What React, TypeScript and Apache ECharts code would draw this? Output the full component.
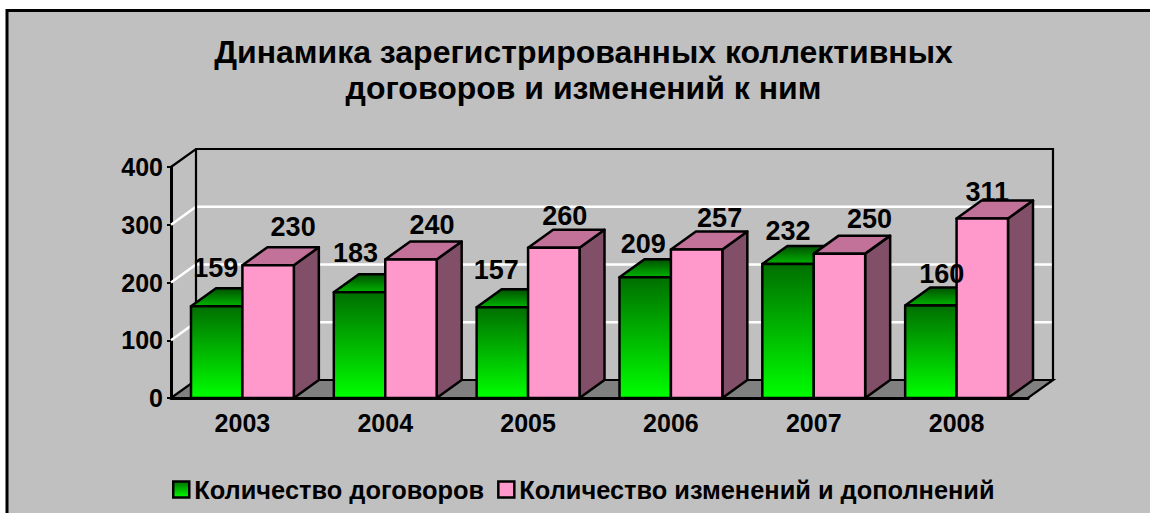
import React, { useEffect, useRef } from "react";
import * as echarts from "echarts";

const years = ["2003", "2004", "2005", "2006", "2007", "2008"];
const contracts = [159, 183, 157, 209, 232, 160];
const amendments = [230, 240, 260, 257, 250, 311];
const yTicks = [0, 100, 200, 300, 400];
const titleText = "Динамика зарегистрированных коллективных\nдоговоров и изменений к ним";
const contractsName = "Количество договоров";
const amendmentsName = "Количество изменений и дополнений";

// hand placement of the value labels, relative to each bar's front top centre
const contractLabelDx = [-1, -4, -6, -2, 0, 11];
const contractLabelDy = [-38, -39, -37, -33, -33, -32];
const amendmentLabelDx = [25, 21, 11, 23, 30, 5];
const amendmentLabelDy = [-38, -34, -32, -32, -35, -26];

const DX = 25;
const DY = 18;
const FONT = '"Liberation Sans", Arial, sans-serif';

const barRender = (side: number, top: any, front: any, right: string, values: number[]) => (params: any, api: any) => {
  const i = api.value(0);
  const v = values[i];
  const base = api.coord([i, 0]);
  const tip = api.coord([i, v]);
  const w = api.size([1, 0])[0] * 0.36;
  const x0 = side < 0 ? base[0] - w : base[0];
  const x1 = x0 + w;
  const y0 = base[1];
  const y1 = tip[1];
  const line = { stroke: "#000", lineWidth: 2.5, lineJoin: "round" };
  return {
    type: "group",
    children: [
      { type: "polygon", shape: { points: [[x1, y0], [x1 + DX, y0 - DY], [x1 + DX, y1 - DY], [x1, y1]] }, style: { fill: right, ...line } },
      { type: "polygon", shape: { points: [[x0, y1], [x1, y1], [x1 + DX, y1 - DY], [x0 + DX, y1 - DY]] }, style: { fill: top, ...line } },
      { type: "rect", shape: { x: x0, y: y1, width: w, height: y0 - y1 }, style: { fill: front, ...line } },
    ],
  };
};

const labelRender = (side: number, values: number[], dxs: number[], dys: number[]) => (params: any, api: any) => {
  const i = api.value(0);
  const v = values[i];
  const base = api.coord([i, v]);
  const w = api.size([1, 0])[0] * 0.36;
  return {
    type: "text",
    style: {
      x: base[0] + (side * w) / 2 + dxs[i],
      y: base[1] + dys[i],
      text: String(v),
      fill: "#000",
      font: `bold 27px ${FONT}`,
      align: "center",
      verticalAlign: "middle",
    },
  };
};

const frameRender = (params: any, api: any) => {
  const c = params.coordSys;
  const x0 = c.x;
  const x1 = c.x + c.width;
  const yb = api.coord([0, 0])[1];
  const yt = api.coord([0, yTicks[yTicks.length - 1]])[1];
  const stroke = { stroke: "#000", lineWidth: 2.2 };
  const children: any[] = [
    { type: "polygon", shape: { points: [[x0, yb], [x0 + DX, yb - DY], [x1 + DX, yb - DY], [x1, yb]] }, style: { fill: "#808080", ...stroke } },
  ];
  yTicks.slice(1, -1).forEach((t) => {
    const y = api.coord([0, t])[1];
    children.push({ type: "polyline", shape: { points: [[x0, y], [x0 + DX, y - DY], [x1 + DX, y - DY]] }, style: { fill: "none", stroke: "#fff", lineWidth: 2.5 } });
  });
  children.push(
    { type: "polyline", shape: { points: [[x0, yt], [x0 + DX, yt - DY], [x1 + DX, yt - DY], [x1 + DX, yb - DY]] }, style: { fill: "none", ...stroke } },
    { type: "line", shape: { x1: x0 + DX, y1: yt - DY, x2: x0 + DX, y2: yb - DY }, style: stroke }
  );
  return { type: "group", children };
};

export default function App() {
  const ref = useRef<HTMLDivElement>(null);
  useEffect(() => {
    document.body.style.margin = "0";
    document.body.style.background = "#fff";
    const chart = echarts.init(ref.current!, null, { renderer: "svg" });
    const grad = (stops: [number, string][]) =>
      new echarts.graphic.LinearGradient(0, 0, 0, 1, stops.map(([offset, color]) => ({ offset, color })));
    const greenFront = grad([[0, "#006f00"], [1, "#00ff00"]]);
    const greenTop = grad([[0, "#005000"], [1, "#00b400"]]);
    const idx = years.map((_, i) => [i]);
    chart.setOption({
      animation: false,
      backgroundColor: "#fff",
      graphic: [
        { type: "rect", z: -10, shape: { x: 7, y: 10.5, width: 1160, height: 520 }, style: { fill: "#C0C0C0", stroke: "#000", lineWidth: 3 } },
      ],
      title: {
        text: titleText,
        left: 578.5,
        top: 29,
        textAlign: "center",
        textStyle: { fontFamily: FONT, fontWeight: "bold", fontSize: 32, lineHeight: 36, color: "#000" },
      },
      legend: {
        data: [contractsName, amendmentsName],
        left: 167,
        top: 472,
        icon: "rect",
        itemWidth: 16,
        itemHeight: 16,
        itemGap: 13,
        itemStyle: { borderColor: "#000", borderWidth: 2.5 },
        textStyle: { fontFamily: FONT, fontWeight: "bold", fontSize: 25.4, color: "#000" },
        selectedMode: false,
      },
      grid: { left: 171, top: 167, width: 857, height: 231 },
      xAxis: {
        type: "category",
        data: years,
        axisLine: { lineStyle: { color: "#000", width: 3 } },
        axisTick: { alignWithLabel: false, length: 5, lineStyle: { color: "#000", width: 2 } },
        axisLabel: { color: "#000", fontFamily: FONT, fontWeight: "bold", fontSize: 25, margin: 12 },
      },
      yAxis: {
        type: "value",
        min: 0,
        max: 400,
        interval: 100,
        splitLine: { show: false },
        axisLine: { show: true, lineStyle: { color: "#000", width: 3 } },
        axisTick: { show: true, length: 4, lineStyle: { color: "#000", width: 2 } },
        axisLabel: { color: "#000", fontFamily: FONT, fontWeight: "bold", fontSize: 25, margin: 8 },
      },
      series: [
        { type: "custom", z: 1, data: [[0]], renderItem: frameRender, silent: true },
        {
          type: "custom",
          name: contractsName,
          z: 3,
          data: idx,
          itemStyle: { color: greenFront, borderColor: "#000", borderWidth: 2 },
          renderItem: barRender(-1, greenTop, greenFront, "#005000", contracts),
        },
        {
          type: "custom",
          name: amendmentsName,
          z: 4,
          data: idx,
          itemStyle: { color: "#FF99CC", borderColor: "#000", borderWidth: 2 },
          renderItem: barRender(1, "#C27299", "#FF99CC", "#824F68", amendments),
        },
        { type: "custom", z: 5, data: idx, silent: true, renderItem: labelRender(-1, contracts, contractLabelDx, contractLabelDy) },
        { type: "custom", z: 5, data: idx, silent: true, renderItem: labelRender(1, amendments, amendmentLabelDx, amendmentLabelDy) },
      ],
    });
    return () => chart.dispose();
  }, []);
  return <div ref={ref} style={{ position: "absolute", left: 0, top: 0, width: 1150, height: 513 }} />;
}
